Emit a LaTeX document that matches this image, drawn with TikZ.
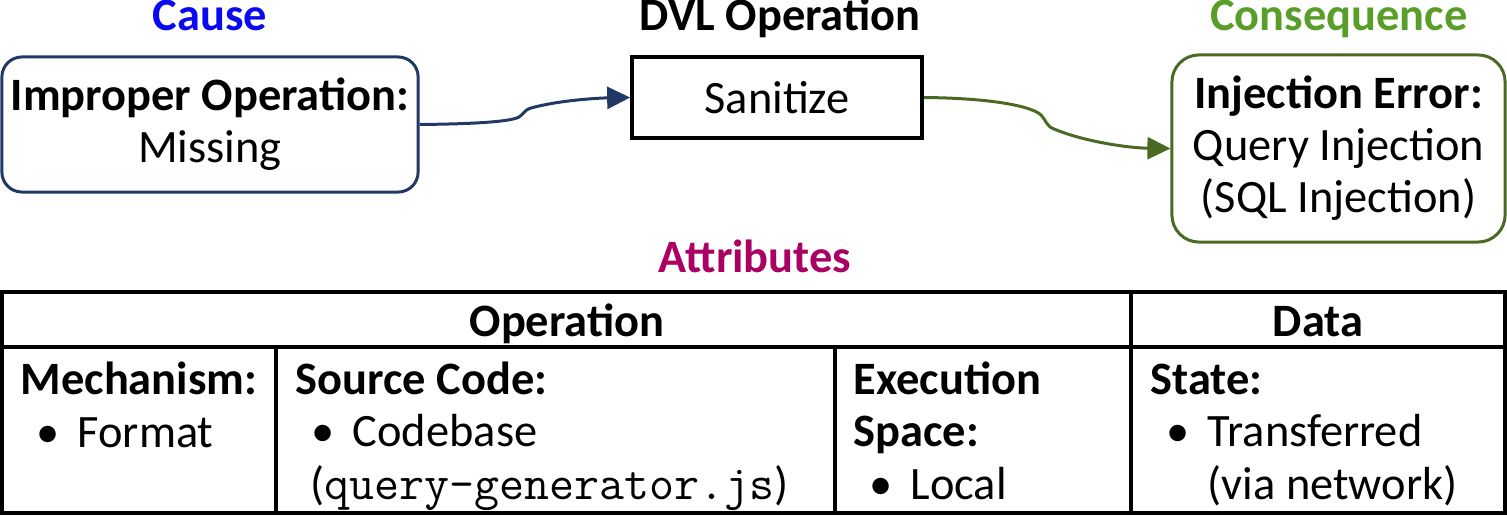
\documentclass[tikz,border=0pt]{standalone}
\usepackage{fontspec}
\setmainfont{Carlito}
\usetikzlibrary{arrows.meta}
\usetikzlibrary{shapes}

\definecolor{causeblue}{HTML}{0A0AF0}
\definecolor{causenavy}{HTML}{203864}
\definecolor{consgreen}{HTML}{5A9E2A}
\definecolor{consdark}{HTML}{4A6A24}
\definecolor{attrmagenta}{HTML}{AA0064}

\newcommand{\itm}{\hspace*{0.16cm}\makebox[0.41cm][l]{\textbullet}}
\newcommand{\srcfile}[1]{{\fontsize{13.8pt}{14.8pt}\ttfamily #1}}

\begin{document}
\begin{tikzpicture}[x=0.01cm,y=-0.01cm,font=\fontsize{13.2pt}{14.8pt}\selectfont]
        \tikzset{title/.style = {font=\fontsize{13.2pt}{14.8pt}\selectfont\bfseries,anchor=base,inner sep=0pt}}
        \tikzset{box/.style = {shape=rectangle,draw,line width=0.85pt,align=center,inner sep=0pt}}
        \tikzset{cell/.style = {anchor=base west,align=left,inner sep=0pt}}
        \tikzset{edge/.style = {line width=0.85pt,-{Triangle[length=0.23cm,width=0.22cm]}}}
        \useasboundingbox (0,0) rectangle (1507,515);
        % titles
        \node[title,text=causeblue] (causetitle) at (210,31) {Cause};
        \node[title] (dvltitle) at (780,30) {DVL Operation};
        \node[title,text=consgreen] (constitle) at (1339,31) {Consequence};
        \node[title,text=attrmagenta] (attrtitle) at (755,272) {Attributes};
        % vertices
        \node[box,draw=causenavy,rounded corners=0.2cm,minimum width=4.16cm,minimum height=1.35cm] (cause) at (210,124.5) {\textbf{Improper Operation:}\\Missing};
        \node[box,line width=1pt,minimum width=2.9cm,minimum height=0.81cm] (sanitize) at (777,97.5) {Sanitize};
        \node[box,draw=consdark,rounded corners=0.27cm,minimum width=3.33cm,minimum height=1.87cm] (consequence) at (1338.5,148.5) {\textbf{Injection Error:}\\Query Injection\\(SQL Injection)};
        %edges
        \draw[edge,causenavy] (cause.east) .. controls (470,124) and (510,122) .. (519,117) .. controls (524,114) and (524,110) .. (531,108) .. controls (560,100) and (600,98) .. (sanitize.west);
        \draw[edge,consdark] (sanitize.east) .. controls (985,98) and (1030,105) .. (1041,115) .. controls (1046,120) and (1046,126) .. (1054,129) .. controls (1085,142) and (1130,148) .. (consequence.west);
        % attribute table
        \draw[line width=1.1pt] (2,292) rectangle (1505,513);
        \draw[line width=1.1pt] (2,347) -- (1505,347);
        \draw[line width=1pt] (1131,292) -- (1131,513);
        \draw[line width=1pt] (276,347) -- (276,513);
        \draw[line width=1pt] (835,347) -- (835,513);
        \node[anchor=base,inner sep=0pt] (operation) at (567,336) {\textbf{Operation}};
        \node[anchor=base,inner sep=0pt] (data) at (1318,336) {\textbf{Data}};
        \node[cell] (mechanism) at (20,447) {\textbf{Mechanism:}\\\itm Format};
        \node[cell] (sourcecode) at (295,499) {\textbf{Source Code:}\\\itm Codebase\\\hspace*{0.15cm}(\srcfile{query-generator.js})};
        \node[cell] (execspace) at (853,499) {\textbf{Execution}\\\textbf{Space:}\\\itm Local};
        \node[cell] (state) at (1150,499) {\textbf{State:}\\\itm Transferred\\\hspace*{0.57cm}(via network)};
\end{tikzpicture}
\end{document}
